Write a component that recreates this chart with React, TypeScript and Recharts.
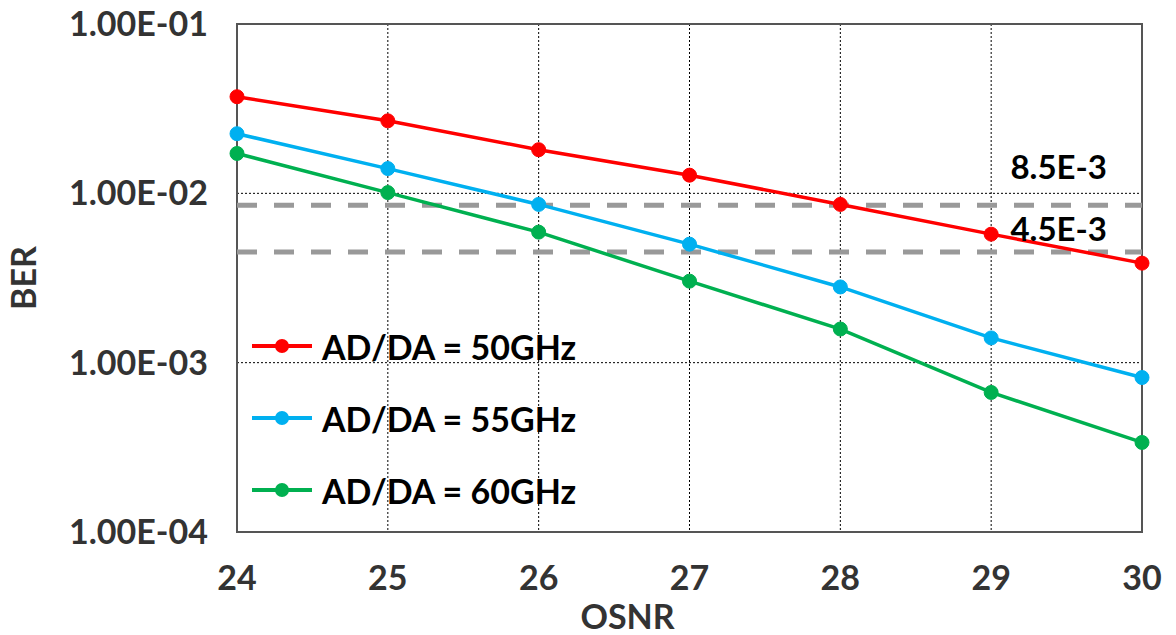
import { LineChart, Line, XAxis, YAxis, CartesianGrid, Legend, ReferenceLine, ReferenceArea, Label } from "recharts";

// OSNR sweep points
const osnr = [24, 25, 26, 27, 28, 29, 30];

// BER (log axis)
const ber50 = [0.0372, 0.0268, 0.0181, 0.0128, 0.0086, 0.00574, 0.00387];
const ber55 = [0.0225, 0.014, 0.0086, 0.00501, 0.0028, 0.0014, 0.000817];
const ber60 = [0.0172, 0.0101, 0.0059, 0.00303, 0.00158, 0.000667, 0.000338];

const yTicks = [1e-4, 1e-3, 1e-2, 1e-1];
const thresholdValues = [8.5e-3, 4.5e-3];
const thresholdLabels = ["8.5E-3", "4.5E-3"];
// how far each label sits above its dashed line
const thresholdLabelOffsets = [26, 11];

const series = [
  { key: "ber50", name: "AD/DA = 50GHz", color: "#FF0000" },
  { key: "ber55", name: "AD/DA = 55GHz", color: "#00B0F0" },
  { key: "ber60", name: "AD/DA = 60GHz", color: "#00B050" },
];

const data = osnr.map((x, i) => ({
  osnr: x,
  ber50: ber50[i],
  ber55: ber55[i],
  ber60: ber60[i],
}));

const FONT = "Lato, 'Open Sans', sans-serif";
const axisText = { fill: "#333", fontSize: 34, fontWeight: 700, fontFamily: FONT };

const formatSci = (v: number) => {
  const exp = Math.floor(Math.log10(v) + 1e-9);
  const mant = v / Math.pow(10, exp);
  const sign = exp < 0 ? "-" : "+";
  const e = String(Math.abs(exp)).padStart(2, "0");
  return `${mant.toFixed(2)}E${sign}${e}`;
};

const renderLegend = () => (
  <div style={{ fontFamily: FONT }}>
    {series.map((s) => (
      <div key={s.key} style={{ display: "flex", alignItems: "center", height: 72 }}>
        <svg width={64} height={20} style={{ marginRight: 8 }}>
          <line x1={2} y1={10} x2={62} y2={10} stroke={s.color} strokeWidth={4} />
          <circle cx={32} cy={10} r={7} fill={s.color} />
        </svg>
        <span style={{ fontSize: 34, fontWeight: 700, color: "#000" }}>{s.name}</span>
      </div>
    ))}
  </div>
);

const App = () => {
  return (
    <div style={{ position: "absolute", left: 0, top: 0, background: "#fff" }}>
      <LineChart width={1176} height={635} data={data} margin={{ top: 24, right: 34, bottom: 0, left: 0 }}>
        <CartesianGrid stroke="#000" strokeDasharray="2 2" strokeWidth={1} />
        <XAxis
          dataKey="osnr"
          type="number"
          domain={[24, 30]}
          ticks={osnr}
          height={103}
          axisLine={false}
          tickLine={false}
          tickMargin={28}
          tick={axisText}
        >
          <Label value="OSNR" position="insideBottom" offset={6} dx={-62} style={axisText} />
        </XAxis>
        <YAxis
          scale="log"
          domain={[1e-4, 1e-1]}
          ticks={yTicks}
          allowDataOverflow
          width={237}
          axisLine={false}
          tickLine={false}
          tickMargin={23}
          tickFormatter={formatSci}
          tick={axisText}
        >
          <Label
            value="BER"
            angle={-90}
            position="insideLeft"
            offset={24}
            style={{ ...axisText, textAnchor: "middle" }}
          />
        </YAxis>
        <ReferenceArea x1={24} x2={30} y1={1e-4} y2={1e-1} fill="none" stroke="#555" strokeWidth={2} />
        {thresholdValues.map((v, i) => (
          <ReferenceLine
            key={thresholdLabels[i]}
            y={v}
            stroke="#999"
            strokeWidth={5}
            strokeDasharray="20 17"
            label={{
              value: thresholdLabels[i],
              position: "insideBottomRight",
              offset: thresholdLabelOffsets[i],
              dx: i === 0 ? -9 : -24,
              style: { fill: "#000", fontSize: 33, fontWeight: 700, fontFamily: FONT },
            }}
          />
        ))}
        {series.map((s) => (
          <Line
            key={s.key}
            type="linear"
            dataKey={s.key}
            name={s.name}
            stroke={s.color}
            strokeWidth={3.5}
            dot={{ r: 7, fill: s.color, stroke: s.color, strokeWidth: 1 }}
            isAnimationActive={false}
          />
        ))}
        <Legend
          layout="vertical"
          align="center"
          verticalAlign="middle"
          content={renderLegend}
          wrapperStyle={{ left: 250, top: 310, width: 360 }}
        />
      </LineChart>
    </div>
  );
};

export default App;
